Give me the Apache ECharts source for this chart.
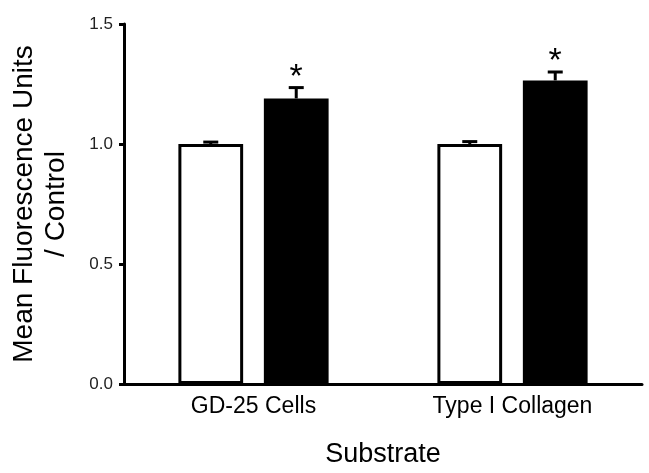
<!DOCTYPE html>
<html>
<head>
<meta charset="utf-8">
<script src="https://cdn.jsdelivr.net/npm/echarts@6/dist/echarts.min.js"></script>
<style>
  html, body { margin: 0; padding: 0; background: #fff; }
  #chart { width: 649px; height: 473px; }
</style>
</head>
<body>
<div id="chart"></div>
<script>
// values
const categories = ['GD-25 Cells', 'Type I Collagen'];
const controlValues = [1.0, 1.0];
const controlErrors = [0.008, 0.01];
const treatedValues = [1.19, 1.265];
const treatedErrors = [0.045, 0.035];
const treatedStars = ['*', '*'];
const yTicks = [0, 0.5, 1.0, 1.5];

const font = '"Liberation Sans", Arial, Helvetica, sans-serif';
const barWidthFrac = 0.25;
const barGapFrac = 0.32;

// centre of each bar relative to category centre, in band widths
const groupWidth = 2 * barWidthFrac + barWidthFrac * barGapFrac;
const barOffsets = [-groupWidth / 2 + barWidthFrac / 2, groupWidth / 2 - barWidthFrac / 2];

const errorSeries = function (values, errors, stars, which) {
    return {
        type: 'custom',
        z: 5,
        silent: true,
        data: values.map(function (v, i) {
            return [i, v, errors[i], stars ? stars[i] : ''];
        }),
        renderItem: function (params, api) {
            const band = api.size([1, 0])[0];
            const base = api.coord([api.value(0), api.value(1)]);
            const top = api.coord([api.value(0), api.value(1) + api.value(2)]);
            const x = base[0] + barOffsets[which] * band;
            const children = [
                {
                    type: 'line',
                    shape: { x1: x, y1: base[1], x2: x, y2: top[1] },
                    style: { stroke: '#000', lineWidth: 3 }
                },
                {
                    type: 'line',
                    shape: { x1: x - 7.5, y1: top[1], x2: x + 7.5, y2: top[1] },
                    style: { stroke: '#000', lineWidth: 3 }
                }
            ];
            const star = api.value(3);
            if (star) {
                children.push({
                    type: 'text',
                    style: {
                        text: star,
                        x: x,
                        y: top[1] - 10,
                        align: 'center',
                        verticalAlign: 'middle',
                        font: '34px ' + font,
                        fill: '#000'
                    }
                });
            }
            return { type: 'group', children: children };
        }
    };
};

const chart = echarts.init(document.getElementById('chart'));
chart.setOption({
    animation: false,
    backgroundColor: '#fff',
    textStyle: { fontFamily: font },
    grid: { left: 118, right: 7, top: 24, bottom: 86 },
    xAxis: {
        type: 'category',
        data: categories,
        name: 'Substrate',
        nameLocation: 'middle',
        nameGap: 57,
        nameTextStyle: { fontSize: 27, color: '#000', fontFamily: font },
        axisLine: { lineStyle: { color: '#000', width: 3 } },
        axisTick: { show: false },
        axisLabel: { fontSize: 23, color: '#000', margin: 11 }
    },
    yAxis: {
        type: 'value',
        min: yTicks[0],
        max: yTicks[yTicks.length - 1],
        interval: 0.5,
        name: 'Mean Fluorescence Units\n/ Control',
        nameLocation: 'middle',
        nameGap: 52,
        nameTextStyle: { fontSize: 28, color: '#000', lineHeight: 32, fontFamily: font },
        axisLine: { show: true, lineStyle: { color: '#000', width: 3 } },
        axisTick: { show: true, length: 5, lineStyle: { color: '#000', width: 3 } },
        axisLabel: {
            fontSize: 17,
            color: '#222',
            margin: 11,
            formatter: function (v) { return v.toFixed(1); }
        },
        splitLine: { show: false }
    },
    series: [
        {
            type: 'bar',
            data: controlValues,
            barWidth: (barWidthFrac * 100) + '%',
            barGap: (barGapFrac * 100) + '%',
            itemStyle: { color: '#fff', borderColor: '#000', borderWidth: 3 }
        },
        {
            type: 'bar',
            data: treatedValues,
            barWidth: (barWidthFrac * 100) + '%',
            itemStyle: { color: '#000', borderColor: '#000', borderWidth: 0 }
        },
        errorSeries(controlValues, controlErrors, null, 0),
        errorSeries(treatedValues, treatedErrors, treatedStars, 1)
    ]
});
</script>
</body>
</html>
